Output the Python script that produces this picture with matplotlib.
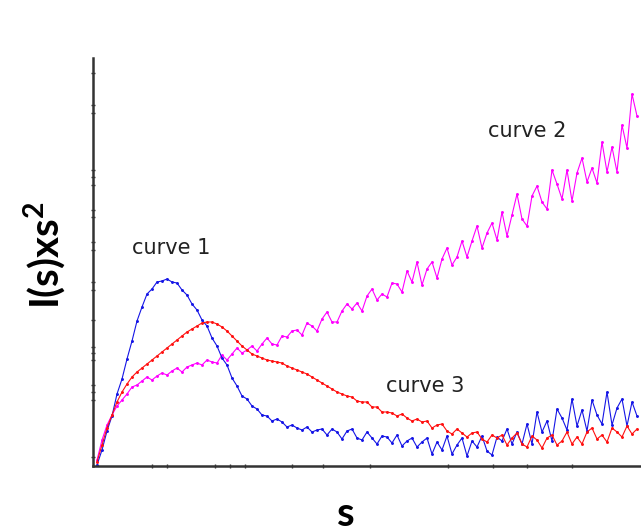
import numpy as np
import matplotlib.pyplot as plt

# scattering vector s (arbitrary units), one sample every 5 units
s = np.arange(4, 545, 5)

# I(s)*s^2, arbitrary units
curve1 = [1, 16, 35, 50, 72, 87, 107, 125, 145, 159, 172, 177, 184, 185, 187, 184, 183, 176, 171, 162,
          156, 146, 140, 128, 120, 108, 101, 88, 80, 70, 67, 60, 57, 51, 50, 45, 47, 44, 39, 41,
          38, 36, 39, 34, 36, 37, 31, 37, 34, 27, 35, 37, 28, 26, 34, 28, 22, 30, 29, 23,
          31, 20, 25, 28, 19, 24, 28, 12, 24, 16, 30, 12, 21, 28, 10, 25, 19, 30, 15, 11,
          29, 25, 37, 22, 34, 22, 42, 22, 54, 34, 45, 25, 57, 48, 36, 67, 40, 56, 35, 66,
          51, 42, 74, 41, 58, 67, 40, 64, 50]

curve2 = [6, 26, 41, 51, 60, 66, 72, 79, 81, 85, 89, 86, 90, 93, 91, 95, 98, 94, 99, 101,
          103, 101, 106, 104, 103, 111, 106, 112, 118, 113, 116, 120, 115, 122, 128, 122, 121, 130, 129, 135,
          136, 131, 143, 140, 135, 147, 154, 144, 144, 155, 162, 157, 163, 155, 170, 177, 166, 172, 169, 183,
          182, 174, 195, 184, 204, 181, 197, 204, 188, 207, 218, 201, 209, 225, 209, 225, 240, 218, 233, 243,
          226, 254, 230, 251, 272, 247, 240, 270, 280, 264, 257, 296, 282, 267, 296, 265, 293, 308, 284, 298,
          283, 324, 294, 319, 294, 341, 318, 372, 350]

curve3 = [4, 21, 38, 51, 64, 74, 82, 89, 94, 98, 102, 106, 110, 114, 118, 122, 126, 130, 134, 137,
          140, 143, 144, 144, 142, 139, 135, 130, 125, 120, 116, 112, 110, 108, 106, 105, 104, 103, 100, 98,
          96, 94, 92, 89, 86, 83, 80, 77, 74, 72, 70, 69, 65, 64, 64, 59, 59, 54, 54, 53,
          50, 52, 48, 45, 47, 44, 45, 38, 41, 42, 35, 32, 37, 33, 29, 33, 34, 27, 24, 31,
          28, 31, 21, 28, 33, 22, 19, 30, 26, 18, 28, 31, 21, 25, 34, 22, 29, 22, 34, 38,
          27, 31, 24, 38, 34, 29, 40, 32, 37]

# irregular tick marks on the original axes (no labels)
x_ticks = [59, 74, 122, 137, 152, 199, 230, 277, 355, 400, 434, 479]
y_ticks = [393, 361, 353, 296, 289, 281, 256, 249, 224, 216, 184, 176, 146, 119, 113, 106, 81, 74, 66, 9]

plt.rcParams['mathtext.fontset'] = 'custom'
plt.rcParams['mathtext.rm'] = 'Lato'
plt.rcParams['mathtext.bf'] = 'Lato:bold'

fig = plt.figure(figsize=(6.41, 5.32), dpi=100)
ax = fig.add_axes([93 / 641, 66 / 532, 548 / 641, 408 / 532])

ax.plot(s, curve2, color='#ff00ff', lw=0.8, marker='.', ms=2.2)
ax.plot(s, curve1, color='#1515e6', lw=0.8, marker='.', ms=2.2)
ax.plot(s, curve3, color='#ff1010', lw=0.8, marker='.', ms=2.2)

ax.set_xlim(0, 548)
ax.set_ylim(0, 408)

for side in ['top', 'right']:
    ax.spines[side].set_visible(False)
for side in ['left', 'bottom']:
    ax.spines[side].set_color('#333333')
    ax.spines[side].set_linewidth(1.8)

ax.set_xticks(x_ticks)
ax.set_yticks(y_ticks)
ax.tick_params(axis='both', direction='inout', length=3, width=1, color='#333333',
               labelbottom=False, labelleft=False)

ax.text(78, 218, 'curve 1', ha='center', va='center', fontsize=15, color='#222222')
ax.text(434, 335, 'curve 2', ha='center', va='center', fontsize=15, color='#222222')
ax.text(332, 80, 'curve 3', ha='center', va='center', fontsize=15, color='#222222')

fig.text(45 / 641, 1 - 255 / 532, r'I(s)xs$^\mathbf{2}$', rotation=90, ha='center', va='center',
         fontsize=29, fontweight='bold', family='Lato')
fig.text(346 / 641, 1 - 515 / 532, 's', ha='center', va='center',
         fontsize=29, fontweight='bold', family='Lato')

fig.savefig('out.png', dpi=100)
